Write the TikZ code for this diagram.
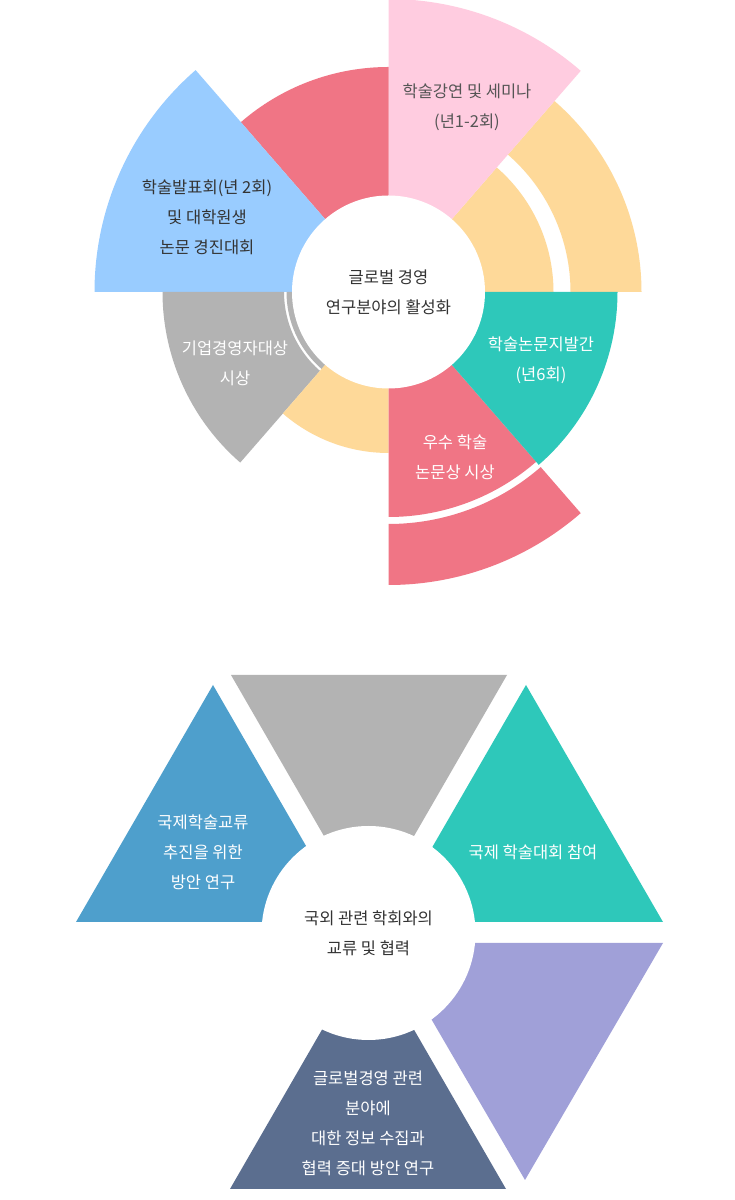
\documentclass[tikz,border=0pt]{standalone}
\usepackage{fontspec}
\setmainfont{Noto Sans CJK KR}
\usepackage{xcolor}
\usetikzlibrary{positioning}
\definecolor{ringyellow}{HTML}{FED999}
\definecolor{ringpink}{HTML}{FFCCE0}
\definecolor{ringred}{HTML}{F07585}
\definecolor{ringblue}{HTML}{99CCFF}
\definecolor{ringgray}{HTML}{B3B3B3}
\definecolor{ringteal}{HTML}{2EC8BA}
\definecolor{triblue}{HTML}{4E9FCC}
\definecolor{trililac}{HTML}{A0A0D8}
\definecolor{trislate}{HTML}{5B6E8F}
\definecolor{txtdark}{HTML}{333333}
\definecolor{txtgray}{HTML}{555555}
\tikzset{
  lbl/.style={align=center, inner sep=0pt, font=\fontsize{16.5}{30}\selectfont},
  darklbl/.style={lbl, text=txtdark},
  graylbl/.style={lbl, text=txtgray},
  whitelbl/.style={lbl, text=white},
  hub/.style={circle, fill=white, darklbl}
}

\begin{document}
\begin{tikzpicture}[x=1pt, y=1pt]
  \fill[white] (0,0) rectangle (735,1200);
  \useasboundingbox (0,0) rectangle (735,1200);

  % research activities ring
  \begin{scope}[shift={(388.5,908)}]
    \foreach \a/\b/\ri/\ro/\col in {
      0/49/96/165/ringyellow, 0/49/182/253/ringyellow,
      49/90/96/293/ringpink,
      90/131/96/225/ringred,
      131/180/96/294/ringblue,
      180/229/96/102/ringgray, 180/229/104.5/226/ringgray,
      229/270/96/161/ringyellow,
      270/311/96/225/ringred, 270/311/232/293/ringred,
      311/360/96/229/ringteal}
      \fill[\col] (\a:\ri) arc[start angle=\a, end angle=\b, radius=\ri pt]
        -- (\b:\ro) arc[start angle=\b, end angle=\a, radius=\ro pt] -- cycle;
  \end{scope}
  \node[hub, minimum size=193pt] (activity) at (388.5,908) {글로벌 경영\\연구분야의 활성화};
  \node[graylbl] (seminar) at (467,1093) {학술강연 및 세미나\\(년1-2회)};
  \node[darklbl] (contest) at (207,983) {학술발표회(년 2회)\\및 대학원생\\논문 경진대회};
  \node[whitelbl] (ceoaward) at (235,837) {기업경영자대상\\시상};
  \node[whitelbl] (journal) at (541,840) {학술논문지발간\\(년6회)};
  \node[whitelbl] (paperaward) at (455,743) {우수 학술\\논문상 시상};

  % international exchange hexagon
  \fill[triblue] (213,515) -- (76,278) -- (350,278) -- cycle;
  \fill[ringgray] (231,525) -- (507,525) -- (369,286) -- cycle;
  \fill[ringteal] (526,515) -- (389,278) -- (663,278) -- cycle;
  \fill[trililac] (387,257) -- (663,257) -- (525,20) -- cycle;
  \fill[trislate] (230,11) -- (506,11) -- (368,250) -- cycle;
  \node[hub, minimum size=214pt] (exchange) at (368.5,267) {국외 관련 학회와의\\교류 및 협력};
  \node[whitelbl] (promote) at (203,348) {국제학술교류\\추진을 위한\\방안 연구};
  \node[whitelbl] (conference) at (533,348) {국제 학술대회 참여};
  \node[whitelbl] (gather) at (368,77) {글로벌경영 관련\\분야에\\대한 정보 수집과\\협력 증대 방안 연구};
\end{tikzpicture}
\end{document}
